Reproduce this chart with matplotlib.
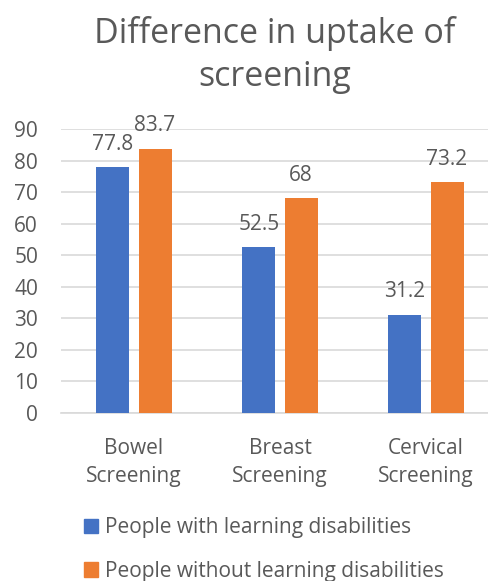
import matplotlib
matplotlib.use("Agg")
import matplotlib.pyplot as plt
import numpy as np
from matplotlib.patches import Patch

categories = ["Bowel\nScreening", "Breast\nScreening", "Cervical\nScreening"]
with_ld = [77.8, 52.5, 31.2]
without_ld = [83.7, 68, 73.2]
with_labels = ["77.8", "52.5", "31.2"]
without_labels = ["83.7", "68", "73.2"]
series_names = ["People with learning disabilities", "People without learning disabilities"]
yticks = [0, 10, 20, 30, 40, 50, 60, 70, 80, 90]

plt.rcParams['font.family'] = ['Open Sans', 'DejaVu Sans']
blue = "#4472C4"
orange = "#ED7D31"
txt = "#595959"
fs = 15

fig = plt.figure(figsize=(4.89, 5.81), dpi=100)
ax = fig.add_axes([61 / 489, 1 - 413 / 581, 438 / 489, 284 / 581])
x = np.arange(len(categories))
w = 0.226
off = 0.144
b1 = ax.bar(x - off, with_ld, w, color=blue, zorder=3)
b2 = ax.bar(x + off, without_ld, w, color=orange, zorder=3)
for rect, lab in zip(b1, with_labels):
    ax.annotate(lab, (rect.get_x() + rect.get_width() / 2, rect.get_height()),
                xytext=(0, 9), textcoords="offset points", ha="center", va="bottom",
                fontsize=fs, color=txt)
for rect, lab in zip(b2, without_labels):
    ax.annotate(lab, (rect.get_x() + rect.get_width() / 2, rect.get_height()),
                xytext=(0, 9), textcoords="offset points", ha="center", va="bottom",
                fontsize=fs, color=txt)

ax.set_xlim(-0.5, 2.5)
ax.set_ylim(0, 90)
ax.set_yticks(yticks)
ax.set_xticks(x)
ax.set_xticklabels(categories, fontsize=fs, color=txt, linespacing=1.45)
ax.tick_params(axis='y', labelsize=fs, labelcolor=txt, length=0, pad=16.5)
ax.tick_params(axis='x', length=0, pad=18)
ax.yaxis.grid(True, color="#D9D9D9", linewidth=1.2, zorder=0)
for s in ["top", "right", "left"]:
    ax.spines[s].set_visible(False)
ax.spines["bottom"].set_color("#D9D9D9")
ax.spines["bottom"].set_linewidth(1.2)

fig.text(274.5 / 489, 1 - 86 / 581, "Difference in uptake of\nscreening", ha="center", va="baseline",
         fontsize=24.5, color=txt, linespacing=1.36)

handles = [Patch(color=blue), Patch(color=orange)]
fig.legend(handles, series_names, loc="upper left", bbox_to_anchor=(84 / 489, 1 - 517 / 581),
           ncol=1, frameon=False, fontsize=fs, labelcolor=txt,
           handlelength=0.68, handleheight=0.68, handletextpad=0.35, labelspacing=1.1,
           borderaxespad=0, borderpad=0)

fig.savefig("out.png", dpi=100)
